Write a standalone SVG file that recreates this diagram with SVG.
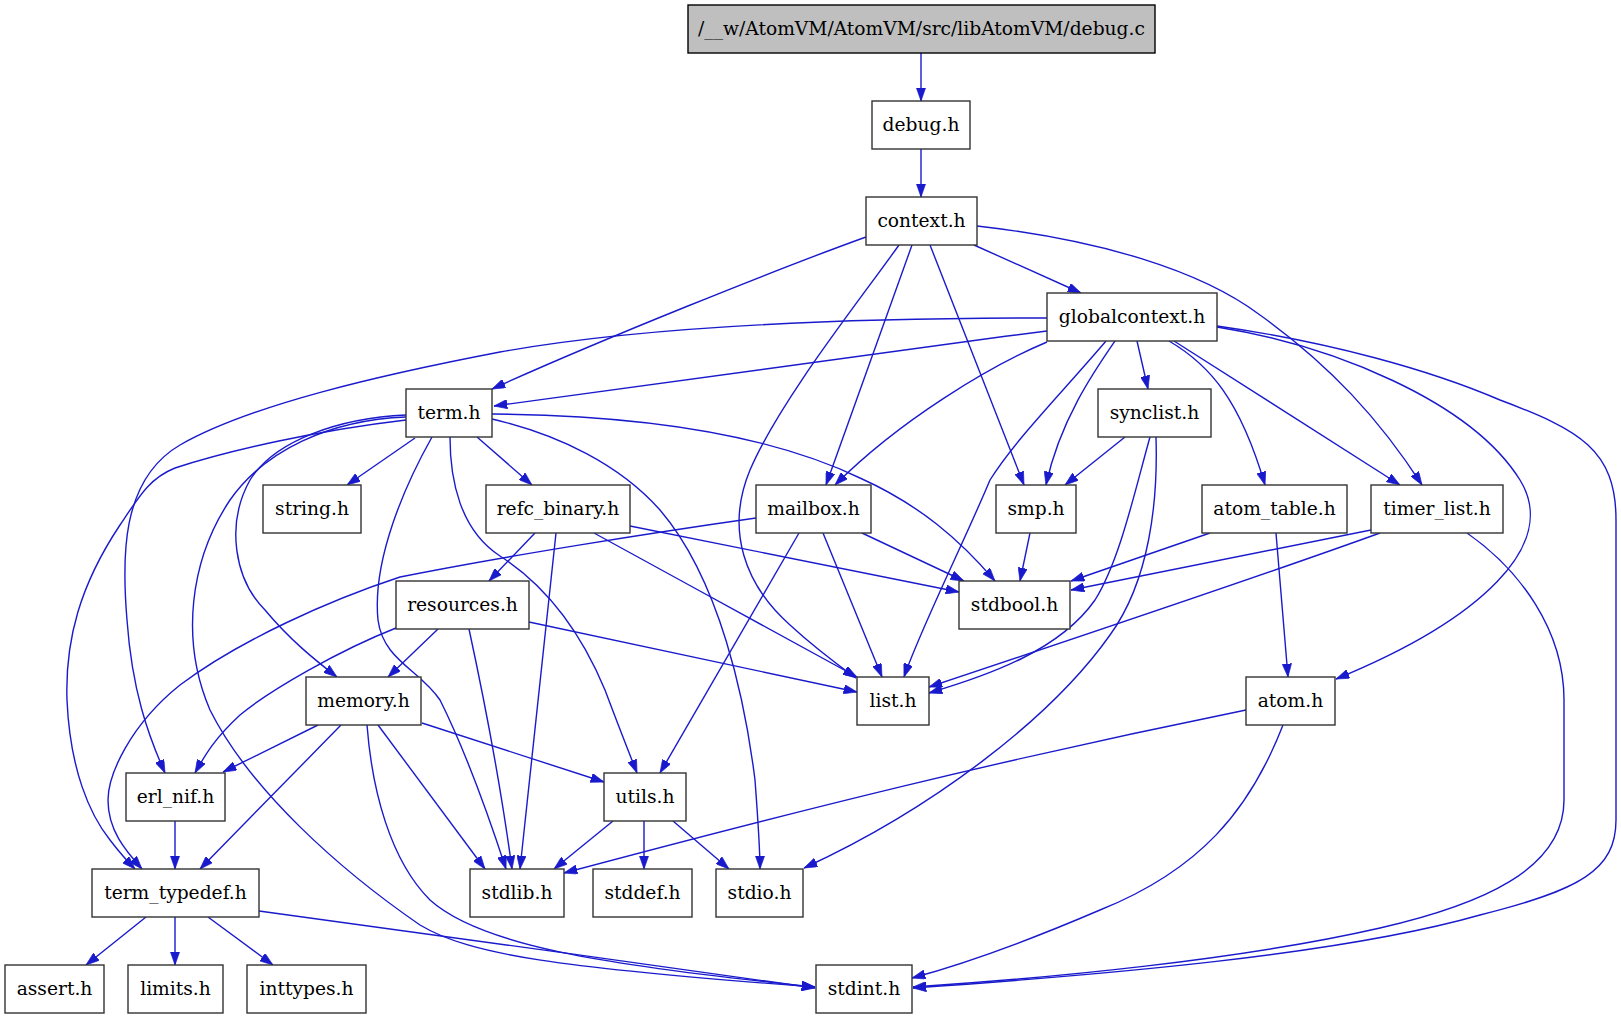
<svg xmlns="http://www.w3.org/2000/svg" width="1621" height="1019" viewBox="0 0 1621 1019">
<style>
.n rect{fill:#fff;stroke:#333;stroke-width:1.4}
.n text{font-family:"DejaVu Serif",serif;font-size:18.67px;text-anchor:middle;fill:#000}
.e path{fill:none;stroke:#1a1acd;stroke-width:1.4;marker-end:url(#a)}
</style>
<defs>
<marker id="a" viewBox="0 0 10 7" refX="10" refY="3.5" markerWidth="13.3" markerHeight="9.3" markerUnits="userSpaceOnUse" orient="auto">
<path d="M0,0 L10,3.5 L0,7 z" fill="#1a1acd" stroke="#1a1acd" stroke-width="0.5"/>
</marker>
</defs>
<rect width="1621" height="1019" fill="#fff"/>
<g class="e">
<path d="M921,53 L921,101"/>
<path d="M921,149 L921,197"/>
<path d="M866,237 C780,268 600,340 492,389"/>
<path d="M899,245 C860,300 780,400 750,470 C725,530 745,585 790,625 C815,648 838,665 856,678"/>
<path d="M912,245 L826,485"/>
<path d="M930,245 L1024,485"/>
<path d="M974,245 L1081,293"/>
<path d="M977,226 C1100,240 1200,270 1260,315 C1330,365 1380,420 1422,485"/>
<path d="M1047,318 C850,318 650,325 500,352 C380,375 250,405 180,445 C120,480 122,560 127,620 C132,690 148,735 165,773"/>
<path d="M1047,331 C850,356 650,384 494,406"/>
<path d="M1047,342 C990,366 900,420 835,485"/>
<path d="M1106,341 C1060,395 1015,440 990,480 C965,540 920,630 904,677"/>
<path d="M1115,341 C1095,370 1060,420 1046,485"/>
<path d="M1137,341 L1148,389"/>
<path d="M1169,341 C1210,365 1240,400 1265,485"/>
<path d="M1174,341 L1400,485"/>
<path d="M1217,327 C1330,345 1470,400 1520,480 C1560,545 1480,620 1336,679"/>
<path d="M1217,326 C1330,342 1430,370 1500,400 C1580,430 1616,450 1616,520 L1616,820 C1616,870 1580,890 1480,915 C1340,955 1100,975 913,988"/>
<path d="M415,438 L347,485"/>
<path d="M477,437 L532,485"/>
<path d="M406,415 C340,418 275,440 250,480 C225,525 235,580 265,610 C290,640 315,660 337,677"/>
<path d="M450,437 C450,480 460,530 500,556 C545,585 580,630 605,690 C620,730 630,755 637,773"/>
<path d="M432,437 C405,485 372,560 378,620 C383,660 420,670 440,700 C465,750 490,820 506,869"/>
<path d="M492,419 C560,435 620,465 660,510 C720,580 745,700 755,780 C758,820 760,850 760,869"/>
<path d="M492,414 C620,415 760,430 860,478 C920,505 960,540 995,581"/>
<path d="M406,420 C320,430 230,450 175,468 C150,478 140,495 120,525 C80,585 65,640 67,700 C70,770 90,815 110,840 C120,853 128,862 135,869"/>
<path d="M406,417 C330,420 265,450 230,500 C190,560 180,640 210,710 C250,790 340,870 420,925 C470,955 560,968 815,987"/>
<path d="M756,518 C650,533 500,557 400,577 C330,600 240,640 180,685 C130,725 108,775 108,800 C108,830 125,850 142,869"/>
<path d="M799,533 L660,773"/>
<path d="M823,533 L882,677"/>
<path d="M862,533 L964,581"/>
<path d="M535,533 L489,581"/>
<path d="M556,533 L520,869"/>
<path d="M594,533 C680,580 780,635 857,677"/>
<path d="M630,526 L959,592"/>
<path d="M438,629 L388,677"/>
<path d="M396,628 C340,650 270,690 240,715 C215,738 205,755 195,773"/>
<path d="M469,629 C480,680 500,780 512,869"/>
<path d="M529,622 L857,692"/>
<path d="M318,725 L223,772"/>
<path d="M341,725 L200,869"/>
<path d="M378,725 L485,869"/>
<path d="M367,725 C372,790 390,860 430,900 C480,945 600,965 815,987"/>
<path d="M422,723 L604,782"/>
<path d="M175,821 L175,869"/>
<path d="M146,917 L86,965"/>
<path d="M175,917 L175,965"/>
<path d="M208,917 L273,965"/>
<path d="M259,911 C420,933 640,963 815,988"/>
<path d="M613,821 L554,869"/>
<path d="M644,821 L644,869"/>
<path d="M673,821 L729,869"/>
<path d="M1030,533 L1020,581"/>
<path d="M1125,437 L1065,485"/>
<path d="M1150,437 C1135,490 1120,560 1095,600 C1060,650 990,675 929,693"/>
<path d="M1156,437 C1158,500 1150,580 1110,635 C1050,720 930,810 804,868"/>
<path d="M1210,533 L1071,581"/>
<path d="M1276,533 L1288,677"/>
<path d="M1371,530 L1071,590"/>
<path d="M1380,533 C1250,580 1100,630 929,687"/>
<path d="M1467,533 C1520,570 1564,630 1564,700 L1564,800 C1564,870 1480,905 1380,928 C1240,960 1050,978 913,987"/>
<path d="M1246,710 C1000,760 800,810 564,873"/>
<path d="M1283,725 C1250,810 1200,870 1100,910 C1030,940 960,965 912,978"/>
</g>
<g id="debug_c" class="n"><rect x="688" y="5" width="467" height="48" style="fill:#bfbfbf;stroke:#000"/><text x="921.5" y="35">/__w/AtomVM/AtomVM/src/libAtomVM/debug.c</text></g>
<g id="debug_h" class="n"><rect x="872" y="101" width="98" height="48"/><text x="921" y="131">debug.h</text></g>
<g id="context_h" class="n"><rect x="866" y="197" width="111" height="48"/><text x="921.5" y="227">context.h</text></g>
<g id="globalcontext_h" class="n"><rect x="1047" y="293" width="170" height="48"/><text x="1132" y="323">globalcontext.h</text></g>
<g id="term_h" class="n"><rect x="406" y="389" width="86" height="48"/><text x="449" y="419">term.h</text></g>
<g id="synclist_h" class="n"><rect x="1098" y="389" width="113" height="48"/><text x="1154.5" y="419">synclist.h</text></g>
<g id="string_h" class="n"><rect x="263" y="485" width="98" height="48"/><text x="312" y="515">string.h</text></g>
<g id="refc_binary_h" class="n"><rect x="486" y="485" width="144" height="48"/><text x="558" y="515">refc_binary.h</text></g>
<g id="mailbox_h" class="n"><rect x="756" y="485" width="115" height="48"/><text x="813.5" y="515">mailbox.h</text></g>
<g id="smp_h" class="n"><rect x="996" y="485" width="80" height="48"/><text x="1036" y="515">smp.h</text></g>
<g id="atom_table_h" class="n"><rect x="1202" y="485" width="145" height="48"/><text x="1274.5" y="515">atom_table.h</text></g>
<g id="timer_list_h" class="n"><rect x="1371" y="485" width="132" height="48"/><text x="1437" y="515">timer_list.h</text></g>
<g id="resources_h" class="n"><rect x="396" y="581" width="133" height="48"/><text x="462.5" y="611">resources.h</text></g>
<g id="stdbool_h" class="n"><rect x="959" y="581" width="111" height="48"/><text x="1014.5" y="611">stdbool.h</text></g>
<g id="memory_h" class="n"><rect x="306" y="677" width="115" height="48"/><text x="363.5" y="707">memory.h</text></g>
<g id="list_h" class="n"><rect x="857" y="677" width="72" height="48"/><text x="893" y="707">list.h</text></g>
<g id="atom_h" class="n"><rect x="1246" y="677" width="89" height="48"/><text x="1290.5" y="707">atom.h</text></g>
<g id="erl_nif_h" class="n"><rect x="126" y="773" width="99" height="48"/><text x="175.5" y="803">erl_nif.h</text></g>
<g id="utils_h" class="n"><rect x="604" y="773" width="82" height="48"/><text x="645" y="803">utils.h</text></g>
<g id="term_typedef_h" class="n"><rect x="92" y="869" width="167" height="48"/><text x="175.5" y="899">term_typedef.h</text></g>
<g id="stdlib_h" class="n"><rect x="470" y="869" width="94" height="48"/><text x="517" y="899">stdlib.h</text></g>
<g id="stddef_h" class="n"><rect x="593" y="869" width="99" height="48"/><text x="642.5" y="899">stddef.h</text></g>
<g id="stdio_h" class="n"><rect x="716" y="869" width="87" height="48"/><text x="759.5" y="899">stdio.h</text></g>
<g id="assert_h" class="n"><rect x="5" y="965" width="99" height="48"/><text x="54.5" y="995">assert.h</text></g>
<g id="limits_h" class="n"><rect x="128" y="965" width="95" height="48"/><text x="175.5" y="995">limits.h</text></g>
<g id="inttypes_h" class="n"><rect x="247" y="965" width="119" height="48"/><text x="306.5" y="995">inttypes.h</text></g>
<g id="stdint_h" class="n"><rect x="816" y="965" width="96" height="48"/><text x="864" y="995">stdint.h</text></g>
</svg>
